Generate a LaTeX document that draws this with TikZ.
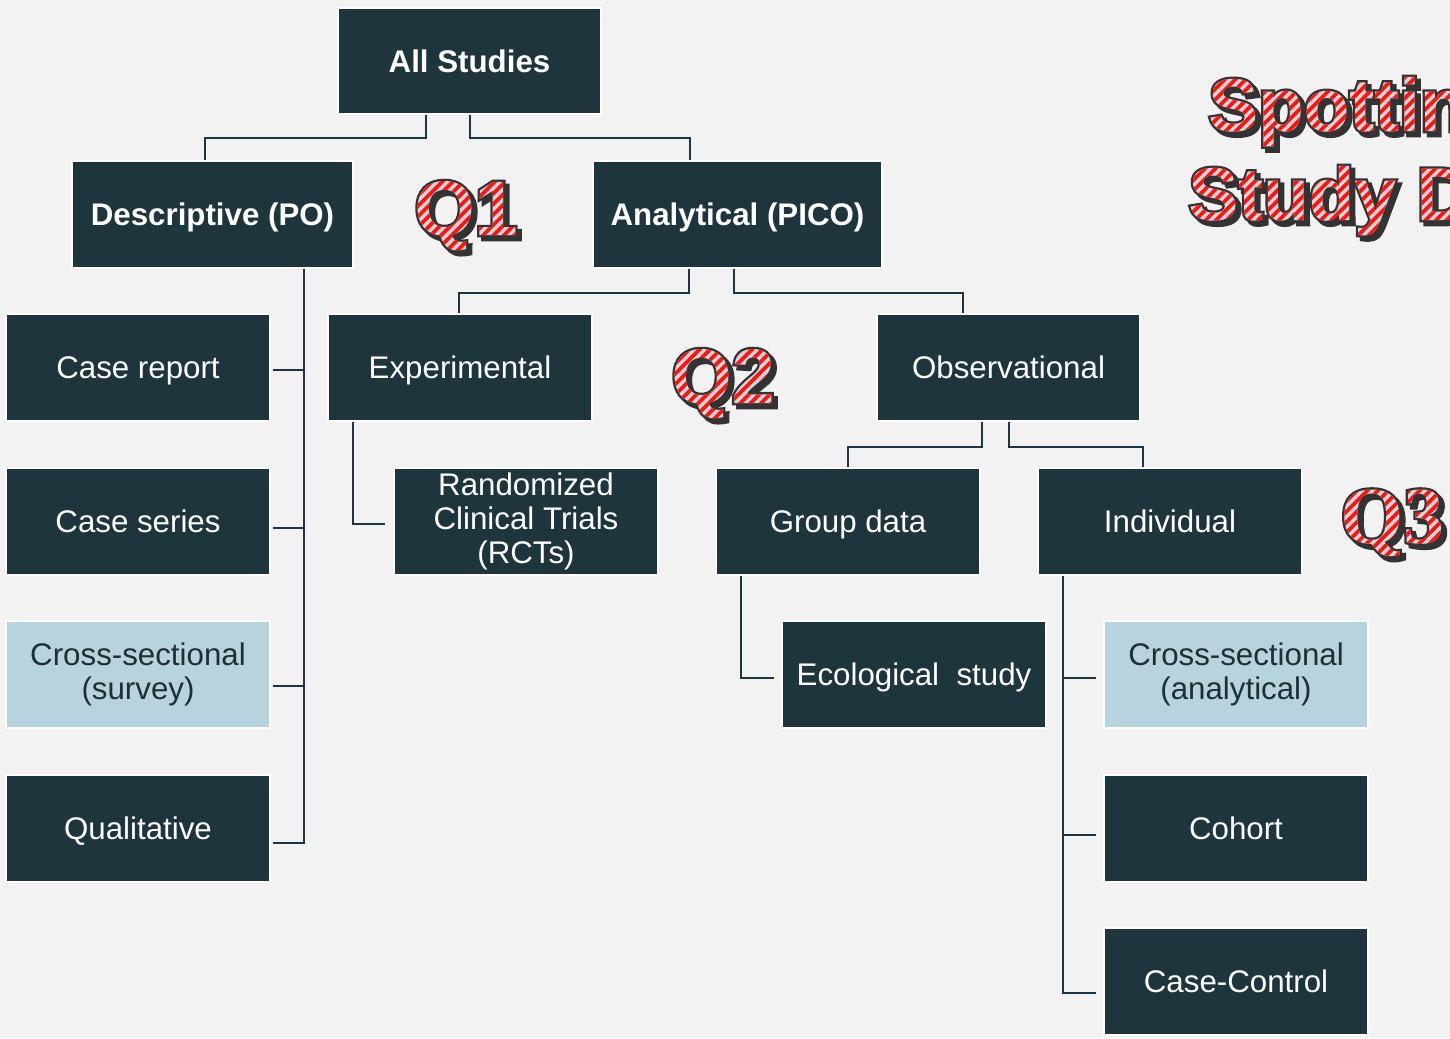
\documentclass[tikz,border=0pt]{standalone}
\usepackage{fontspec}
\setmainfont{Liberation Sans}
\newfontfamily\qserif{Liberation Serif}
\usepackage{tikz}
\usetikzlibrary{positioning, calc}

\definecolor{pagebg}{HTML}{F2F2F2}
\definecolor{boxdark}{HTML}{1F353E}
\definecolor{boxlight}{HTML}{B7D4DE}
\definecolor{textdark}{HTML}{1F2F36}
\definecolor{linedark}{HTML}{1E3440}

\newcommand\qfont{\fontsize{44}{44}\selectfont\bfseries}
\newcommand\qserfont{\qserif\fontsize{46}{46}\selectfont\bfseries}
\newcommand\titlefont{\fontsize{42.5}{42.5}\selectfont\bfseries}

% outlined text with drop shadow and red stripes
\makeatletter
\newbox\stripebox
\newcommand\stripetext[1]{%
	\setbox\stripebox\hbox{#1}%
	\edef\st@w{\strip@pt\wd\stripebox}%
	\pgfmathsetmacro\st@rw{\st@w+60}%
	\pgfmathsetmacro\st@xb{\st@w+60}%
	\pgfmathsetmacro\st@ya{\st@w/2+75}%
	\pgfmathsetmacro\st@yb{-\st@w/2-45}%
	\pgfmathsetmacro\st@lw{\st@w+140}%
	\special{pdf:bcontent}%
	\special{pdf:literal direct 2 Tr 2.6 w 0.2 G 0.2 g}%
	\rlap{\kern2.3pt\lower2.3pt\copy\stripebox}\copy\stripebox
	\special{pdf:econtent}%
	\kern-\wd\stripebox
	\special{pdf:bcontent}%
	\special{pdf:literal direct 7 Tr}%
	\copy\stripebox\kern-\wd\stripebox
	\special{pdf:literal 0.84 g -30 -30 \st@rw\space 110 re f 1 0.07 0.07 RG [2.1 2.1] 0 d \st@lw\space w -60 \st@ya\space m \st@xb\space \st@yb\space l S}%
	\special{pdf:econtent}%
	\kern\wd\stripebox
}
\makeatother

\tikzset{%
	box/.style={draw=white, line width=0.4mm, fill=boxdark, text=white, inner sep=0mm,%
		minimum width=5.28cm, minimum height=2.14cm, align=center,%
		text height=12.75pt, text depth=0pt,%
		font=\fontsize{17.8}{19.3}\selectfont},
	twoline/.style={text height={}, text depth={}},
	lightbox/.style={box, twoline, fill=boxlight, text=textdark},
	head/.style={box, font=\fontsize{17.8}{19.3}\selectfont\bfseries},
	link/.style={draw=linedark, line width=0.4mm},
	fancy/.style={inner sep=0pt, anchor=base}
}

\begin{document}
\begin{tikzpicture}[x=0.02cm, y=-0.02cm]
	\useasboundingbox (0,0) rectangle (1450,1038);
	\fill[pagebg] (0,0) rectangle (1450,1038);
	\clip (0,0) rectangle (1450,1038);

	\node[head, minimum width=5.26cm] (all) at (469.5,61) {All Studies};
	\node[head, minimum width=5.62cm] (desc) at (212.5,214.5) {Descriptive (PO)};
	\node[head, minimum width=5.78cm] (analytic) at (737.5,214.5) {Analytical (PICO)};
	\node[box] (casereport) at (138,367.5) {Case report};
	\node[box] (caseseries) at (138,521.5) {Case series};
	\node[lightbox] (crossdesc) at (138,674.5) {Cross-sectional\\(survey)};
	\node[box] (qual) at (138,828.5) {Qualitative};
	\node[box] (exper) at (460,367.5) {Experimental};
	\node[box, twoline] (rct) at (526,521.5) {Randomized\\Clinical Trials\\(RCTs)};
	\node[box] (obs) at (1008.5,367.5) {Observational};
	\node[box] (group) at (848,521.5) {Group data};
	\node[box] (indiv) at (1170,521.5) {Individual};
	\node[box] (eco) at (914,674.5) {Ecological\ \ study};
	\node[lightbox] (crossan) at (1236,674.5) {Cross-sectional\\(analytical)};
	\node[box] (cohort) at (1236,828.5) {Cohort};
	\node[box] (casecontrol) at (1236,981.5) {Case-Control};

	\draw[link] ($(all.south)+(-43.5,0)$) -- ++(0,23) -| ($(desc.north)+(-7.5,0)$);
	\draw[link] (all.south) -- ++(0,23) -| ($(analytic.north)+(-47.5,0)$);
	\draw[link] ($(desc.south)+(91.5,0)$) |- ($(qual.east)+(2,14.5)$);
	\draw[link] ($(casereport.east)+(2,2.5)$) -- ++(32,0);
	\draw[link] ($(caseseries.east)+(2,6.5)$) -- ++(32,0);
	\draw[link] ($(crossdesc.east)+(2,11.5)$) -- ++(32,0);
	\draw[link] ($(analytic.south)+(-48.5,0)$) -- ++(0,24) -| ($(exper.north)+(-1,0)$);
	\draw[link] ($(analytic.south)+(-3.5,0)$) -- ++(0,24) -| ($(obs.north)+(-45.5,0)$);
	\draw[link] ($(exper.south)+(-107,0)$) |- ($(rct.west)+(-8,2.5)$);
	\draw[link] ($(obs.south)+(-26.5,0)$) -- ++(0,25) -| (group.north);
	\draw[link] (obs.south) -- ++(0,25) -| ($(indiv.north)+(-27,0)$);
	\draw[link] ($(group.south)+(-107,0)$) |- ($(eco.west)+(-7,3.5)$);
	\draw[link] ($(indiv.south)+(-107,0)$) |- ($(casecontrol.west)+(-7,11.5)$);
	\draw[link] ($(crossan.west)+(-7,3.5)$) -- ++(-34,0);
	\draw[link] ($(cohort.west)+(-7,6.5)$) -- ++(-34,0);

	\node[fancy, font=\qfont] (qone) at (466,235) {\stripetext{Q1}};
	\node[fancy, font=\qfont] (qtwo) at (723,403) {\stripetext{Q2}};
	\node[fancy, font=\qserfont] (qthree) at (1392,543) {\stripetext{Q3}};
	\node[fancy, font=\titlefont] (spot) at (1426,131) {\stripetext{Spotting the}};
	\node[fancy, font=\titlefont] (study) at (1427,220) {\stripetext{Study Design}};
\end{tikzpicture}
\end{document}
